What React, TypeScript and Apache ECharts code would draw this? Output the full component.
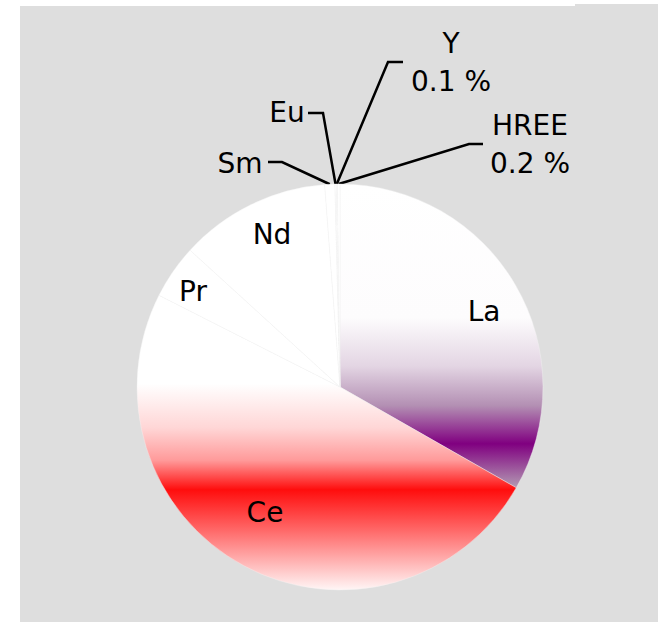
import React, { useEffect, useRef } from "react";
import * as echarts from "echarts";

// Rare-earth oxide shares (%), clockwise from 12 o'clock
const elements = ["La", "Ce", "Pr", "Nd", "Sm", "Eu", "Y", "HREE"];
const shares = [33.2, 49.1, 4.3, 12.0, 0.8, 0.1, 0.1, 0.2];
// Slices whose label shows the percentage under the name
const withPercent = ["Y", "HREE"];
// Slices labelled outside with a leader line
const outsideLabels = ["Sm", "Eu", "Y", "HREE"];

const W = 658;
const H = 622;
const CX = 340;
const CY = 387;
const R = 203;

// Label centres (px) and leader-line bends
const labelSpots: Record<string, [number, number]> = {
  La: [484, 311],
  Ce: [265, 512],
  Pr: [193, 291],
  Nd: [272, 234],
  Sm: [240, 163],
  Eu: [287, 112],
  Y: [451, 62],
  HREE: [530, 144],
};
const leaderBends: Record<string, number[][]> = {
  Sm: [[282, 162], [268, 162]],
  Eu: [[323, 113], [308, 113]],
  Y: [[388, 62], [403, 62]],
  HREE: [[469, 144], [483, 144]],
};

const grad = (stops: [number, string][]) =>
  new echarts.graphic.LinearGradient(
    0, 0, 0, 1,
    stops.map(([offset, color]) => ({ offset, color }))
  );

const fills: Record<string, any> = {
  La: grad([
    [0, "#ffffff"],
    [0.44, "#fdfcfd"],
    [0.6, "#e3d5e3"],
    [0.73, "#b38fb3"],
    [0.855, "#800080"],
    [1, "#b39bb3"],
  ]),
  Ce: grad([
    [0, "#ffffff"],
    [0.3, "#ffffff"],
    [0.45, "#ffd6d6"],
    [0.56, "#ff9a9a"],
    [0.66, "#ff0d0d"],
    [0.8, "#ff6a6a"],
    [1, "#fff6f6"],
  ]),
};

// Point on the rim at the middle of slice i
function rimPoint(i: number): number[] {
  const total = shares.reduce((a, b) => a + b, 0);
  const before = shares.slice(0, i).reduce((a, b) => a + b, 0);
  const mid = ((before + shares[i] / 2) / total) * 2 * Math.PI;
  return [CX + R * Math.sin(mid), CY - R * Math.cos(mid)];
}

export default function App() {
  const ref = useRef<HTMLDivElement>(null);

  useEffect(() => {
    if (!ref.current) return;
    const chart = echarts.init(ref.current, undefined, { renderer: "svg" });

    const data = elements.map((name, i) => {
      const outside = outsideLabels.includes(name);
      return {
        name,
        value: shares[i],
        itemStyle: { color: fills[name] || "#ffffff" },
        label: {
          position: outside ? "outside" : "inside",
          formatter: withPercent.includes(name) ? "{b}\n{c} %" : "{b}",
        },
        labelLine: { show: outside },
      };
    });

    chart.setOption({
      animation: false,
      backgroundColor: "#ffffff",
      graphic: [
        {
          type: "rect",
          silent: true,
          z: -1,
          shape: { x: 20, y: 6, width: W - 20, height: H - 6 },
          style: { fill: "#dedede" },
        },
        {
          type: "rect",
          silent: true,
          z: -1,
          shape: { x: 575, y: 4, width: W - 575, height: 3 },
          style: { fill: "#dedede" },
        },
      ],
      series: [
        {
          type: "pie",
          center: [CX, CY],
          radius: R,
          startAngle: 90,
          clockwise: true,
          avoidLabelOverlap: false,
          minShowLabelAngle: 0,
          itemStyle: { borderColor: "rgba(242,242,242,0.8)", borderWidth: 0.5 },
          label: {
            show: true,
            color: "#000000",
            fontFamily: "DejaVu Sans",
            fontSize: 28,
            lineHeight: 38,
            align: "center",
          },
          labelLine: {
            show: true,
            lineStyle: { color: "#000000", width: 2.5 },
          },
          emphasis: { disabled: true },
          labelLayout: (params: any) => {
            const name = elements[params.dataIndex];
            const [x, y] = labelSpots[name];
            const out: any = { x, y, align: "center", verticalAlign: "middle" };
            if (leaderBends[name]) {
              out.labelLinePoints = [rimPoint(params.dataIndex), ...leaderBends[name]];
            }
            return out;
          },
          data,
        },
      ],
    });

    return () => chart.dispose();
  }, []);

  return (
    <div
      ref={ref}
      style={{ position: "fixed", left: 0, top: 0, width: W, height: H }}
    />
  );
}
